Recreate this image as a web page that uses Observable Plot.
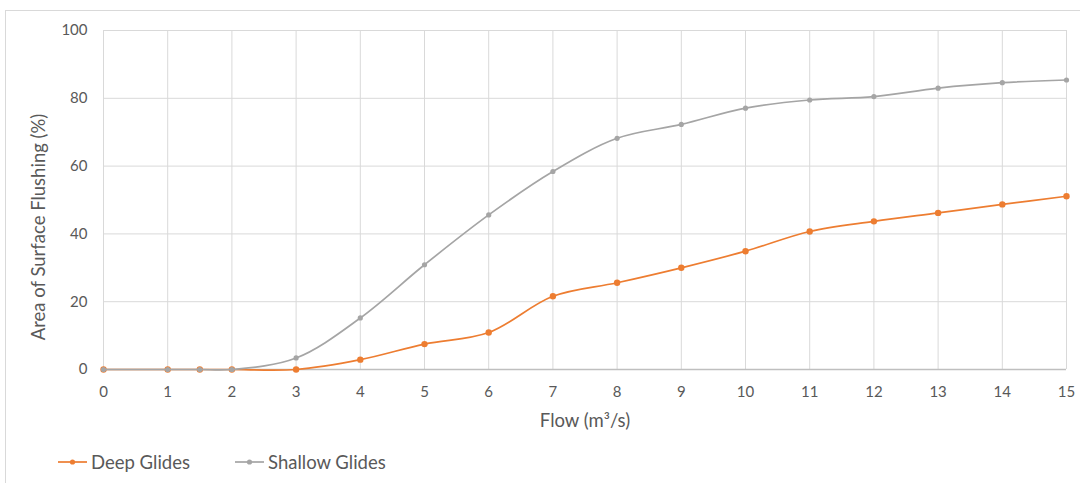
<!DOCTYPE html>
<html>
<head>
<meta charset="utf-8">
<script src="https://cdn.jsdelivr.net/npm/d3@7"></script>
<script src="https://cdn.jsdelivr.net/npm/@observablehq/plot@0.6"></script>
<style>
  html, body { margin: 0; padding: 0; background: #fff; }
  body { width: 1080px; height: 483px; position: relative; overflow: hidden; font-family: Lato, "Open Sans", sans-serif; }
  #frame { position: absolute; left: 5px; top: 10px; width: 1100px; height: 500px; border: 1px solid #d9d9d9; box-sizing: border-box; }
  #chart { position: absolute; left: 0; top: 0; }
  #legend { position: absolute; left: 0; top: 450px; width: 1080px; height: 24px; font-size: 18.5px; color: #595959; }
  .item { position: absolute; top: 0; display: flex; align-items: center; height: 24px; }
  .item svg { margin-right: 4px; }
</style>
</head>
<body>
<div id="frame"></div>
<div id="chart"></div>
<div id="legend"></div>
<script>
const flow = [0, 1, 1.5, 2, 3, 4, 5, 6, 7, 8, 9, 10, 11, 12, 13, 14, 15];
const deepGlides = [0, 0, 0, 0, 0, 2.9, 7.5, 10.9, 21.6, 25.6, 30.0, 34.9, 40.7, 43.7, 46.2, 48.7, 51.1];
const shallowGlides = [0, 0, 0, 0, 3.4, 15.2, 30.9, 45.6, 58.4, 68.2, 72.3, 77.1, 79.5, 80.5, 83.0, 84.6, 85.4];
const xTicks = [0, 1, 2, 3, 4, 5, 6, 7, 8, 9, 10, 11, 12, 13, 14, 15];
const yTicks = [0, 20, 40, 60, 80, 100];
const seriesNames = ["Deep Glides", "Shallow Glides"];
const seriesColors = ["#ED7D31", "#A5A5A5"];
const yTitle = "Area of Surface Flushing (%)";
const xTitle = "Flow (m³/s)";

const deep = flow.map((f, i) => ({flow: f, value: deepGlides[i]}));
const shallow = flow.map((f, i) => ({flow: f, value: shallowGlides[i]}));

const chart = Plot.plot({
  width: 1080,
  height: 440,
  marginLeft: 103,
  marginRight: 14,
  marginTop: 30,
  marginBottom: 71,
  style: {fontFamily: "Lato, 'Open Sans', sans-serif", fontSize: "15px", color: "#595959", background: "transparent"},
  x: {domain: [0, 15], label: null},
  y: {domain: [0, 100], label: null},
  marks: [
    Plot.gridX(xTicks, {stroke: "#d9d9d9", strokeOpacity: 1}),
    Plot.gridY(yTicks, {stroke: "#d9d9d9", strokeOpacity: 1}),
    Plot.ruleY([0], {stroke: "#bfbfbf", strokeWidth: 1.5}),
    Plot.axisX(xTicks, {tickSize: 0, tickPadding: 17, label: null, fill: "#595959", fontSize: 15, tickFormat: d => String(d)}),
    Plot.axisY(yTicks, {tickSize: 0, tickPadding: 16, label: null, fill: "#595959", fontSize: 15, tickFormat: d => String(d)}),
    Plot.line(deep, {x: "flow", y: "value", stroke: seriesColors[0], strokeWidth: 1.7, curve: "catmull-rom"}),
    Plot.dot(deep, {x: "flow", y: "value", fill: seriesColors[0], r: 3.2}),
    Plot.line(shallow, {x: "flow", y: "value", stroke: seriesColors[1], strokeWidth: 1.7, curve: "catmull-rom"}),
    Plot.dot(shallow, {x: "flow", y: "value", fill: seriesColors[1], r: 2.6}),
    Plot.text([yTitle], {text: d => d, frameAnchor: "left", textAnchor: "middle", rotate: -90, dx: -64, dy: 27, fontSize: 18.5, fill: "#595959"}),
    Plot.text([xTitle], {text: d => d, frameAnchor: "bottom", textAnchor: "middle", dy: 57, fontSize: 18.5, fill: "#595959"})
  ]
});
document.getElementById("chart").appendChild(chart);

const legend = document.getElementById("legend");
const lefts = [58, 235];
seriesNames.forEach((name, i) => {
  const item = document.createElement("div");
  item.className = "item";
  item.style.left = lefts[i] + "px";
  item.innerHTML = `<svg width="29" height="10"><line x1="0" y1="5" x2="29" y2="5" stroke="${seriesColors[i]}" stroke-width="1.7"/><circle cx="14.5" cy="5" r="2.6" fill="${seriesColors[i]}"/></svg><span>${name}</span>`;
  legend.appendChild(item);
});
</script>
</body>
</html>
